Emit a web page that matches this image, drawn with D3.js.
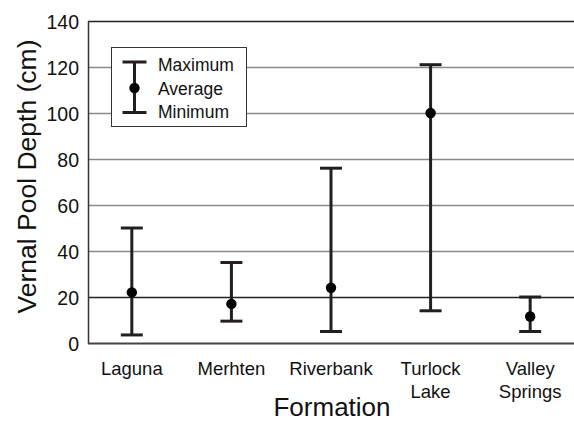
<!DOCTYPE html>
<html>
<head>
<meta charset="utf-8">
<script src="https://cdn.jsdelivr.net/npm/d3@7"></script>
<style>
  html, body { margin: 0; padding: 0; background: #fff; }
  svg { display: block; font-family: "Liberation Sans", Arial, Helvetica, sans-serif; }
</style>
</head>
<body>
<svg id="chart" width="574" height="425"></svg>
<script>
// ---- data ----
const categories = ["Laguna", "Merhten", "Riverbank", "Turlock Lake", "Valley Springs"];
const categoryLines = [["Laguna"], ["Merhten"], ["Riverbank"], ["Turlock", "Lake"], ["Valley", "Springs"]];
const maxValues = [50, 35, 76, 121, 20];
const avgValues = [22, 17, 24, 100, 11.5];
const minValues = [3.5, 9.5, 5, 14, 5];
const yTicks = [0, 20, 40, 60, 80, 100, 120, 140];
const darkGrid = [20, 140];
const legendLabels = ["Maximum", "Average", "Minimum"];

// ---- layout ----
const svg = d3.select("#chart");
const plotL = 88, plotR = 574, plotT = 21, plotB = 343;
const ink = "#231f20";

const x = d3.scalePoint().domain(categories).range([plotL, plotR]).padding(0.44);
const y = d3.scaleLinear().domain([0, 140]).range([plotB, plotT]);

// grid lines
svg.append("g").selectAll("line").data(yTicks.filter(d => d > 0)).join("line")
  .attr("x1", plotL).attr("x2", plotR)
  .attr("y1", d => Math.round(y(d)) + 0.5).attr("y2", d => Math.round(y(d)) + 0.5)
  .attr("stroke", d => darkGrid.includes(d) ? "#222" : "#8a8a8a")
  .attr("stroke-width", d => darkGrid.includes(d) ? 1.3 : 1.6);

// y axis via d3.axisLeft (no tick lines, no domain)
const yAxis = svg.append("g")
  .attr("transform", `translate(${plotL},0)`)
  .call(d3.axisLeft(y).tickValues(yTicks).tickSize(0).tickPadding(9).tickFormat(d3.format("d")));
yAxis.select(".domain").remove();
yAxis.selectAll("text")
  .attr("font-size", 19.5).attr("fill", "#111")
  .attr("font-family", "'Liberation Sans', Arial, sans-serif")
  .attr("dy", "0.36em");

// axis lines
svg.append("line").attr("x1", plotL + 0.5).attr("x2", plotL + 0.5)
  .attr("y1", plotT).attr("y2", plotB + 1).attr("stroke", "#333").attr("stroke-width", 1.5);
svg.append("line").attr("x1", plotL).attr("x2", plotR)
  .attr("y1", plotB + 0.5).attr("y2", plotB + 0.5).attr("stroke", "#444").attr("stroke-width", 2);

// x category labels
const xLab = svg.append("g");
categories.forEach((c, i) => {
  const t = xLab.append("text")
    .attr("x", x(c)).attr("y", 375)
    .attr("text-anchor", "middle").attr("font-size", 18.5).attr("fill", "#111");
  categoryLines[i].forEach((ln, j) => {
    t.append("tspan").attr("x", x(c)).attr("dy", j === 0 ? 0 : 23).text(ln);
  });
});

// axis titles
svg.append("text").attr("x", 332).attr("y", 416)
  .attr("text-anchor", "middle").attr("font-size", 26).attr("fill", "#111").text("Formation");
svg.append("text")
  .attr("transform", `translate(36,${(33 + 320) / 2}) rotate(-90)`)
  .attr("text-anchor", "middle").attr("font-size", 26.5).attr("fill", "#111")
  .text("Vernal Pool Depth (cm)");

// error bars
const capW = 22;
const g = svg.append("g");
categories.forEach((c, i) => {
  const cx = x(c);
  g.append("line").attr("x1", cx).attr("x2", cx)
    .attr("y1", y(maxValues[i])).attr("y2", y(minValues[i]))
    .attr("stroke", ink).attr("stroke-width", 3);
  [maxValues[i], minValues[i]].forEach(v => {
    g.append("line").attr("x1", cx - capW / 2).attr("x2", cx + capW / 2)
      .attr("y1", y(v)).attr("y2", y(v))
      .attr("stroke", ink).attr("stroke-width", 3);
  });
  g.append("circle").attr("cx", cx).attr("cy", y(avgValues[i])).attr("r", 5.2).attr("fill", "#000");
});

// legend
const lg = svg.append("g");
lg.append("rect").attr("x", 111.5).attr("y", 47.5).attr("width", 135).attr("height", 79)
  .attr("fill", "#fff").attr("stroke", "#333").attr("stroke-width", 1);
const lx = 134.5;
lg.append("line").attr("x1", lx).attr("x2", lx).attr("y1", 62).attr("y2", 112.5)
  .attr("stroke", ink).attr("stroke-width", 3);
[62, 112.5].forEach(yy => lg.append("line").attr("x1", lx - 12).attr("x2", lx + 12)
  .attr("y1", yy).attr("y2", yy).attr("stroke", ink).attr("stroke-width", 3));
lg.append("circle").attr("cx", lx).attr("cy", 88).attr("r", 5.2).attr("fill", "#000");
legendLabels.forEach((t, i) => {
  lg.append("text").attr("x", 158).attr("y", 71 + i * 23.5)
    .attr("font-size", 17.5).attr("fill", "#111").text(t);
});
</script>
</body>
</html>
